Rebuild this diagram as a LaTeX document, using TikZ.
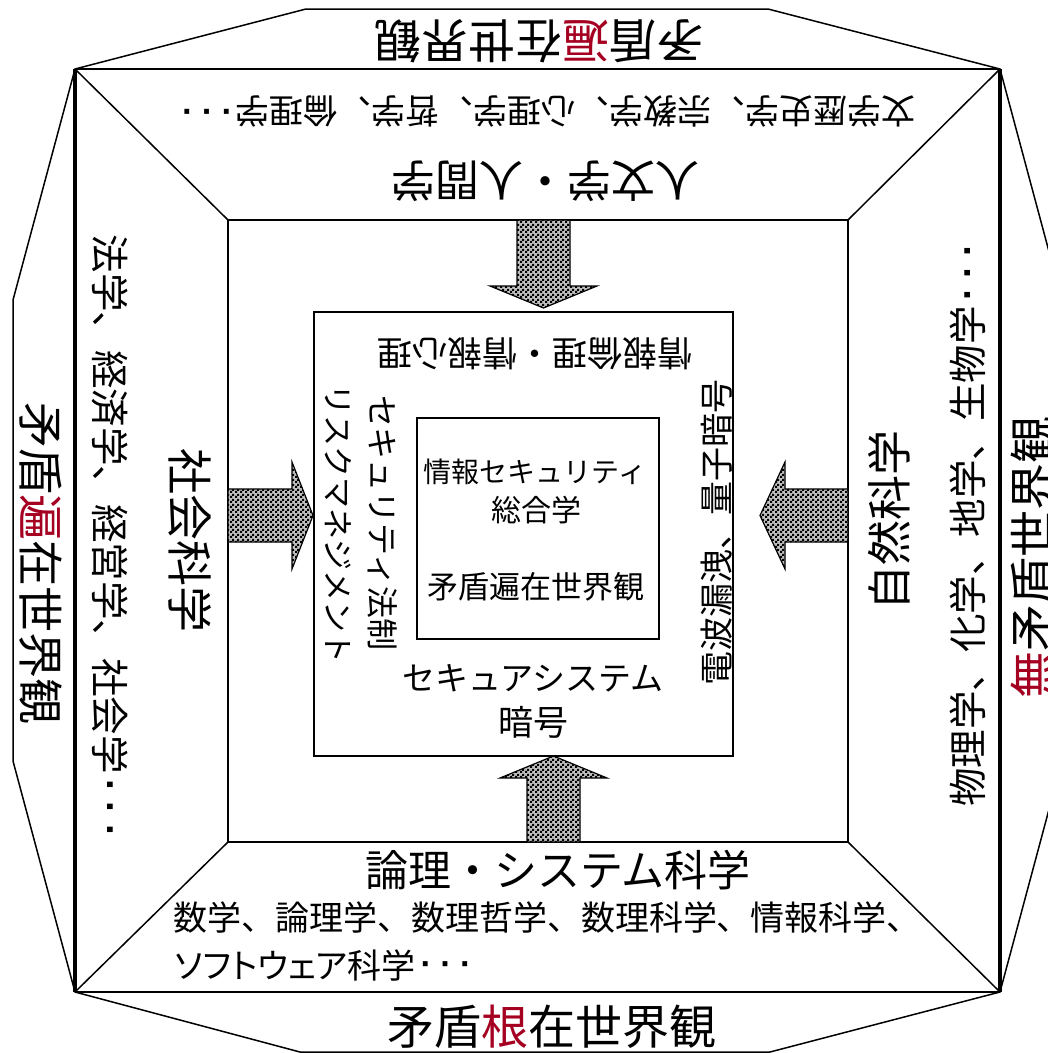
\documentclass[tikz,border=0pt]{standalone}
\usepackage{fontspec}
\setmainfont{Noto Sans CJK JP}
\newfontfamily\jpp[RawFeature=+palt]{Noto Sans CJK JP}
\newfontfamily\dotfont{Liberation Sans}
\usetikzlibrary{patterns}
\definecolor{accent}{RGB}{165,0,33}
\newcommand{\fsz}[1]{\fontsize{#1}{#1}\selectfont}
\newcommand{\tdots}{{\dotfont\bfseries\hspace{0.14em}\raisebox{0.06em}{·}\hspace{0.25em}\raisebox{0.06em}{·}\hspace{0.25em}\raisebox{0.06em}{·}}}
\pgfdeclarepatternformonly{finecheck}{\pgfpointorigin}{\pgfqpoint{5pt}{5pt}}{\pgfqpoint{5pt}{5pt}}{%
  \pgfpathrectangle{\pgfpointorigin}{\pgfqpoint{2.5pt}{2.5pt}}%
  \pgfpathrectangle{\pgfqpoint{2.5pt}{2.5pt}}{\pgfqpoint{2.5pt}{2.5pt}}%
  \pgfusepath{fill}}
\tikzset{
  ln/.style={line width=1.5pt, line join=miter},
  edgethick/.style={line width=3.2pt},
  blockarrow/.style={draw=black, line width=1.2pt, preaction={fill=black!25}, pattern=finecheck, pattern color=black},
  lbl/.style={inner sep=0pt, outer sep=0pt, text=black},
}
\begin{document}
\begin{tikzpicture}[x=1pt,y=-1pt]
\useasboundingbox (0,0) rectangle (1048,1053);
\clip (0,0) rectangle (1048,1053);
\fill[white] (0,0) rectangle (1048,1053);

% hull
\coordinate (H1) at (306,9);
\coordinate (H2) at (768,9);
\coordinate (H3) at (1000,69);
\coordinate (H4) at (1062,300);
\coordinate (H5) at (1062,761);
\coordinate (H6) at (1000,992);
\coordinate (H7) at (770,1052);
\coordinate (H8) at (300,1052);
\coordinate (H9) at (75,992);
\coordinate (H10) at (13,761);
\coordinate (H11) at (13,300);
\coordinate (H12) at (75,69);
\draw[ln] (H1) -- (H2) -- (H3) -- (H4) -- (H5) -- (H6) -- (H7) -- (H8) -- (H9) -- (H10) -- (H11) -- (H12) -- cycle;

% frame corners
\coordinate (OA) at (75,69);
\coordinate (OB) at (1000,69);
\coordinate (OC) at (1000,992);
\coordinate (OD) at (75,992);
\coordinate (MA) at (228,220);
\coordinate (MB) at (848,220);
\coordinate (MC) at (848,842);
\coordinate (MD) at (228,842);
\draw[ln] (OA) -- (OB);
\draw[ln] (OD) -- (OC);
\draw[edgethick] (OA) -- (OD);
\draw[edgethick] (OB) -- (OC);
\draw[ln] (MA) rectangle (MC);
\draw[ln] (OA) -- (MA);
\draw[ln] (OB) -- (MB);
\draw[ln] (OC) -- (MC);
\draw[ln] (OD) -- (MD);

% inner boxes
\draw[ln] (314,312) rectangle (733,756);
\draw[ln] (417,418) rectangle (659,639);

% block arrows
\draw[blockarrow] (517,220) -- (517,286) -- (490,286) -- (543.5,308) -- (597,286) -- (570,286) -- (570,220) -- cycle;
\draw[blockarrow] (228,489) -- (292,489) -- (292,462) -- (313,515.5) -- (292,569) -- (292,542) -- (228,542) -- cycle;
\draw[blockarrow] (848,489) -- (785,489) -- (785,462) -- (760,515.5) -- (785,569) -- (785,542) -- (848,542) -- cycle;
\draw[blockarrow] (527,842) -- (527,778) -- (500,778) -- (553.5,756) -- (607,778) -- (580,778) -- (580,842) -- cycle;

% outer worldview labels
\node[lbl, rotate=180, font=\fsz{47}] (wtop) at (539,41) {矛盾\textcolor{accent}{遍}在世界観};
\node[lbl, rotate=-90, font=\fsz{46}] (wleft) at (41,563) {矛盾\textcolor{accent}{遍}在世界観};
\node[lbl, rotate=90, font=\fsz{47}] (wright) at (1033,557) {\textcolor{accent}{無}矛盾世界観};
\node[lbl, font=\fsz{47}] (wbottom) at (552,1027) {矛盾\textcolor{accent}{根}在世界観};

% top region
\node[lbl, rotate=180, font=\fsz{34}] (hlist) at (548,111) {文学歴史学、宗教学、心理学、哲学、倫理学\tdots};
\node[lbl, rotate=180, font=\fsz{44}] (htitle) at (545,181) {人文学・人間学};

% left region
\node[lbl, rotate=-90, font=\fsz{38.5}] (slist) at (110,536) {法学、経済学、経営学、社会学\tdots};
\node[lbl, rotate=-90, font=\fsz{46}] (stitle) at (190,540) {社会科学};

% right region
\node[lbl, rotate=90, font=\fsz{38.5}] (nlist) at (968,525) {物理学、化学、地学、生物学\tdots};
\node[lbl, rotate=90, font=\fsz{45}] (ntitle) at (889,520) {自然科学};

% bottom region
\node[lbl, font=\fsz{43}] (ltitle) at (558,870) {論理・システム科学};
\node[lbl, font=\fsz{34}] (llist) at (547,918) {数学、論理学、数理哲学、数理科学、情報科学、};
\node[lbl, font=\fsz{34}, anchor=west] (llist2) at (175,965) {{\jpp ソフトウェア}科学\tdots};

% inner box labels
\node[lbl, rotate=180, font=\fsz{35}] (iethics) at (535,354) {情報倫理・情報心理};
\node[lbl, rotate=-90, font=\fsz{32}] (ilaw) at (383,523) {セキュリティ法制};
\node[lbl, rotate=-90, font=\fsz{31}] (irisk) at (338,524) {リスクマネジメント};
\node[lbl, rotate=90, font=\fsz{34}] (iquant) at (717,532) {電波漏洩、量子暗号};
\node[lbl, font=\fsz{33}] (isys) at (533,678) {セキュアシステム};
\node[lbl, font=\fsz{35}] (icrypt) at (533,722) {暗号};

% innermost
\node[lbl, font=\fsz{28}] (core1) at (535,472) {情報セキュリティ};
\node[lbl, font=\fsz{30}] (core2) at (536,510) {総合学};
\node[lbl, font=\fsz{31}] (core3) at (536,587) {矛盾遍在世界観};
\end{tikzpicture}
\end{document}
